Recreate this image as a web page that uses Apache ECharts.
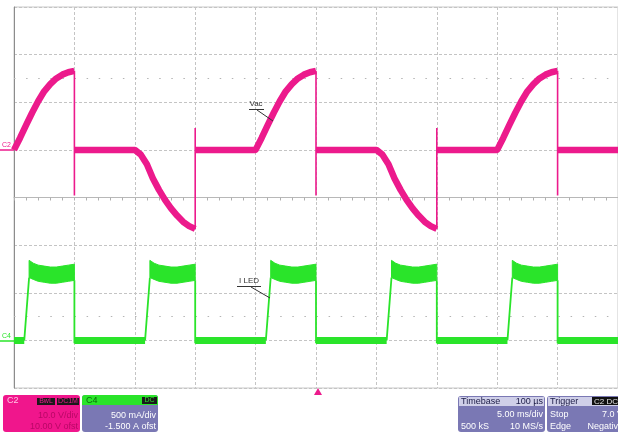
<!DOCTYPE html>
<html><head><meta charset="utf-8">
<script src="https://cdn.jsdelivr.net/npm/echarts@6/dist/echarts.min.js"></script>
<style>html,body{margin:0;padding:0;background:#fff}#c{width:618px;height:435px}</style>
</head><body><div id="c"></div>
<script>
// ---- data (time in ms relative to trigger, 5 ms/div) ----
const zeroCrossingsMs = [-25, -15, -5, 5, 15];      // start of each conducting quarter-cycle
const polarity        = [1, -1, 1, -1, 1];
const cutTimesMs      = [-20, -10, 0, 10, 20];      // dimmer cut-off edges
const vacOffsetsMs    = [0, 0.5, 1, 1.5, 2, 2.5, 3, 3.5, 4, 4.5, 5];
const vacPosV         = [0, 2.5, 5.2, 7.8, 10.2, 12.3, 13.8, 15.0, 15.8, 16.3, 16.6];
const vacNegV         = [0, -1.0, -3.0, -6.0, -8.4, -10.5, -12.3, -13.8, -15.1, -16.0, -16.6];
const vacSpikeV       = [-9.6, 4.6, -9.6, 4.6, -9.6];  // overshoot of the cut edge
const iledRiseMs      = [0.85, 1.25];                 // delay of LED current rise after zero crossing
const iledTopOffsetsMs= [1.25, 1.6, 2, 2.5, 3, 3.5, 4, 4.5, 5];
const iledHiA         = [0.84, 0.81, 0.79, 0.78, 0.77, 0.77, 0.78, 0.79, 0.80]; // upper edge of noise band
const iledLoA         = [0.66, 0.64, 0.62, 0.61, 0.60, 0.60, 0.61, 0.62, 0.63]; // lower edge of noise band
const iledBaseA       = 0;
const endMs           = 25;

// ---- build series ----
const GAP = (t) => [t, '-'];
const vacThick = [], vacEdges = [], iledBase = [], iledEdges = [];
zeroCrossingsMs.forEach((zc, k) => {
  const shape = polarity[k] > 0 ? vacPosV : vacNegV;
  vacOffsetsMs.forEach((o, i) => vacThick.push([zc + o, shape[i]]));
  const cut = cutTimesMs[k];
  vacThick.push(GAP(cut));
  vacThick.push([cut, 0]);
  if (k === zeroCrossingsMs.length - 1) vacThick.push([endMs, 0]);
  vacEdges.push([cut, shape[shape.length - 1]], [cut, vacSpikeV[k]], GAP(cut));

  if (k === 0) iledBase.push([zc, iledBaseA]);
  iledBase.push([zc + iledRiseMs[0], iledBaseA], GAP(zc + iledRiseMs[0]));
  iledBase.push([cut, iledBaseA]);
  if (k === zeroCrossingsMs.length - 1) iledBase.push([endMs, iledBaseA]);
  iledEdges.push([zc + iledRiseMs[0], iledBaseA], [zc + iledRiseMs[1], iledLoA[0]], GAP(zc + iledRiseMs[1]));
  iledEdges.push([cut, iledLoA[iledLoA.length - 1]], [cut, -0.03], GAP(cut));
});

const PINK = '#ec1a8c', GREEN = '#2ae42a', BOX = '#7a78b4';
const FONT = 'Liberation Sans';
const gridCol = '#c4c4c4';

const chart = echarts.init(document.getElementById('c'), null, {renderer: 'canvas'});
function txt(x, y, s, fill, align, size) {
  return {type: 'text', x: x, y: y, silent: true, z: 100,
    style: {text: s, fill: fill, font: (size || 9) + 'px ' + FONT, align: align || 'left', verticalAlign: 'middle'}};
}
function rect(x, y, w, h, fill, r) {
  return {type: 'rect', silent: true, z: 90, shape: {x: x, y: y, width: w, height: h, r: r || 0}, style: {fill: fill}};
}
function line(x1, y1, x2, y2, stroke, w) {
  return {type: 'line', silent: true, z: 100, shape: {x1: x1, y1: y1, x2: x2, y2: y2}, style: {stroke: stroke, lineWidth: w || 1}};
}

const graphics = [
  // C2 box
  rect(3, 395, 77, 37, '#f0168c', 3),
  txt(7, 401, 'C2', '#ffc6e4', 'left', 9),
  rect(37, 398, 18, 7, '#1a1a1a'), txt(46, 401.5, 'BwL', PINK, 'center', 7),
  rect(57, 398, 22, 7, '#1a1a1a'), txt(68, 401.5, 'DC1M', PINK, 'center', 7),
  txt(78, 415.5, '10.0 V/div', '#b80866', 'right', 9),
  txt(78, 426.5, '10.00 V ofst', '#b80866', 'right', 9),
  // C4 box
  rect(82, 395, 76, 37, BOX, 3),
  rect(82, 395, 76, 10, GREEN, [3, 3, 0, 0]),
  txt(86, 400.5, 'C4', '#0b6a0b', 'left', 9),
  rect(142, 397, 15, 7, '#1a1a1a'), txt(149.5, 400.5, 'DC', GREEN, 'center', 7),
  txt(156, 415.5, '500 mA/div', '#ffffff', 'right', 9),
  txt(156, 426.5, '-1.500 A ofst', '#ffffff', 'right', 9),
  // Timebase box
  rect(458, 396, 87, 36, BOX, 3),
  rect(459, 397, 85, 9, '#cfcfe8'),
  txt(461, 401.5, 'Timebase', '#20204a', 'left', 9),
  txt(543, 401.5, '100 µs', '#20204a', 'right', 9),
  txt(543, 415, '5.00 ms/div', '#ffffff', 'right', 9),
  txt(461, 426.5, '500 kS', '#ffffff', 'left', 9),
  txt(543, 426.5, '10 MS/s', '#ffffff', 'right', 9),
  // Trigger box
  rect(547, 396, 80, 36, BOX, 3),
  rect(548, 397, 78, 9, '#cfcfe8'),
  txt(550, 401.5, 'Trigger', '#20204a', 'left', 9),
  rect(592, 397, 30, 8, '#111111'), txt(594, 401.5, 'C2 DC', '#e0e0e0', 'left', 8),
  txt(550, 415, 'Stop', '#ffffff', 'left', 9),
  txt(623, 415, '7.0 V', '#ffffff', 'right', 9),
  txt(550, 426.5, 'Edge', '#ffffff', 'left', 9),
  txt(623, 426.5, 'Negative', '#ffffff', 'right', 9),
  // trigger position marker
  {type: 'polygon', silent: true, z: 100, shape: {points: [[318, 388], [314, 395], [322, 395]]}, style: {fill: PINK}},
  // channel markers
  txt(2, 145, 'C2', PINK, 'left', 7), line(0, 150, 14, 150, PINK, 1.5),
  txt(2, 336, 'C4', GREEN, 'left', 7), line(0, 341, 14, 341, GREEN, 1.5),
  // annotations
  txt(256, 104, 'Vac', '#333333', 'center', 8),
  line(249, 109.5, 264, 109.5, '#333333', 1),
  line(257, 110, 273, 121, '#333333', 1),
  txt(249, 281, 'I LED', '#333333', 'center', 8),
  line(237, 286.5, 261, 286.5, '#333333', 1),
  line(251, 287, 270, 298, '#333333', 1)
];

chart.setOption({
  animation: false,
  backgroundColor: '#ffffff',
  grid: {left: 14, top: 7, width: 604, height: 381, show: true, borderColor: '#c8c8c8', borderWidth: 1},
  xAxis: {
    type: 'value', min: -25, max: 25, interval: 5,
    axisLabel: {show: false},
    axisLine: {show: true, onZero: true, onZeroAxisIndex: 2, lineStyle: {color: '#b8b8b8', width: 1}},
    axisTick: {show: true, length: 3, lineStyle: {color: '#b0b0b0'}},
    minorTick: {show: true, splitNumber: 5, length: 3, lineStyle: {color: '#b0b0b0'}},
    splitLine: {show: true, lineStyle: {color: gridCol, type: [3, 2], width: 1}}
  },
  yAxis: [
    {type: 'value', min: -50, max: 30, interval: 10, axisLabel: {show: false},
     axisLine: {show: true, onZero: false, lineStyle: {color: '#8c8c8c', width: 1}},
     axisTick: {show: false}, splitLine: {show: false}},
    {type: 'value', min: -0.5, max: 3.5, interval: 0.5, show: false, splitLine: {show: false}},
    {type: 'value', min: -4, max: 4, interval: 1, axisLabel: {show: false},
     axisLine: {show: true, onZero: true, lineStyle: {color: '#b8b8b8', width: 1}},
     axisTick: {show: true, length: 3, lineStyle: {color: '#b0b0b0'}},
     minorTick: {show: true, splitNumber: 5, length: 3, lineStyle: {color: '#b0b0b0'}},
     splitLine: {show: true, lineStyle: {color: gridCol, type: [3, 2], width: 1}}}
  ],
  series: [
    {name: 'dots', type: 'line', yAxisIndex: 2, data: [], silent: true,
     markLine: {silent: true, symbol: 'none', label: {show: false},
       lineStyle: {color: '#b4b4b4', type: [1.5, 10.6], width: 1.2},
       data: [{yAxis: 2.5}, {yAxis: -2.5}]}},
    {name: 'Vac', type: 'line', yAxisIndex: 0, data: vacThick, showSymbol: false, connectNulls: false,
     lineStyle: {color: PINK, width: 6.5, cap: 'butt', join: 'round'}, z: 5},
    {name: 'Vac edges', type: 'line', yAxisIndex: 0, data: vacEdges, showSymbol: false, connectNulls: false,
     lineStyle: {color: PINK, width: 1.6}, z: 5},
    {name: 'I LED', type: 'line', yAxisIndex: 1, data: iledBase, showSymbol: false, connectNulls: false,
     lineStyle: {color: GREEN, width: 7, cap: 'butt'}, z: 5},
    {name: 'I LED band', type: 'custom', yAxisIndex: 1, z: 5, silent: true,
     data: zeroCrossingsMs.map((zc, k) => [zc + iledTopOffsetsMs[0], iledHiA[0], k]),
     encode: {x: 0, y: 1},
     renderItem: function (params, api) {
       const zc = zeroCrossingsMs[params.dataIndex];
       const pts = [];
       iledTopOffsetsMs.forEach((o, i) => pts.push(api.coord([zc + o, iledHiA[i]])));
       for (let i = iledTopOffsetsMs.length - 1; i >= 0; i--) pts.push(api.coord([zc + iledTopOffsetsMs[i], iledLoA[i]]));
       return {type: 'polygon', shape: {points: pts}, style: {fill: GREEN, stroke: GREEN, lineWidth: 1}};
     }},
    {name: 'I LED edges', type: 'line', yAxisIndex: 1, data: iledEdges, showSymbol: false, connectNulls: false,
     lineStyle: {color: GREEN, width: 1.8}, z: 5}
  ],
  graphic: graphics
});
</script>
</body></html>
